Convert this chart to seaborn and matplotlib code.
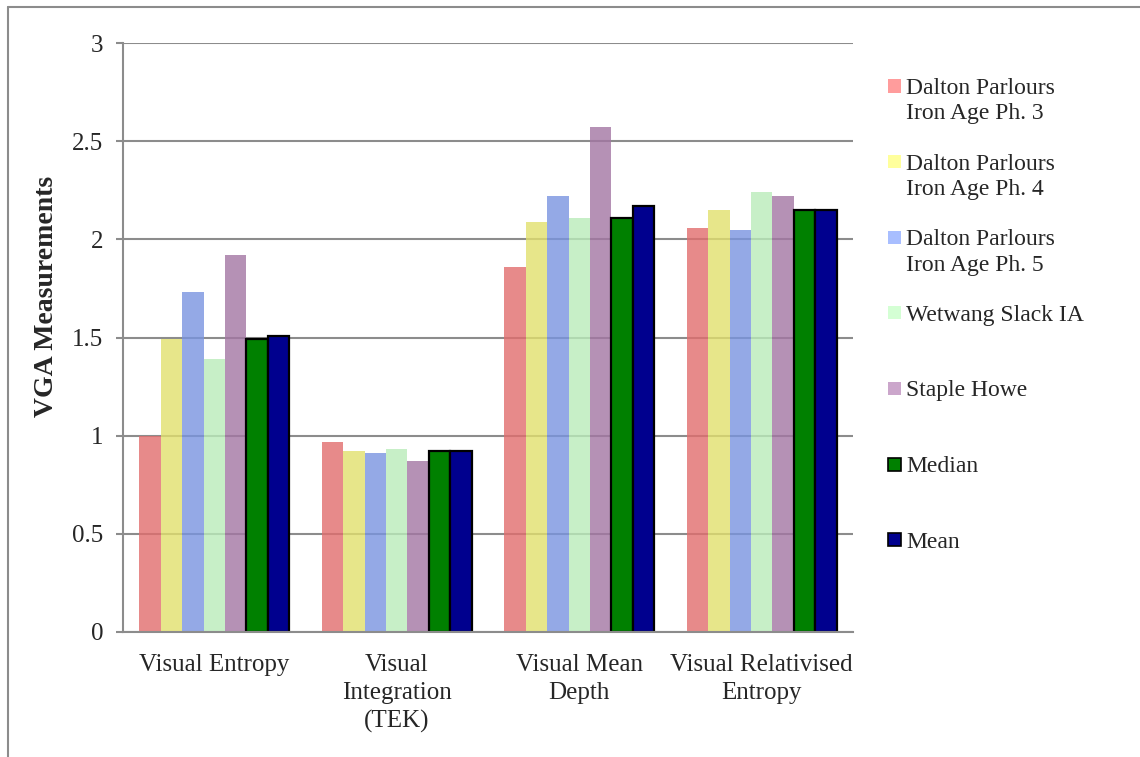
import matplotlib
matplotlib.use('Agg')
import matplotlib.pyplot as plt
from matplotlib.patches import Rectangle
from matplotlib.lines import Line2D
import pandas as pd
import seaborn as sns

measures = ['Visual Entropy', 'Visual Integration (TEK)', 'Visual Mean Depth',
            'Visual Relativised Entropy']
tick_labels = ['Visual Entropy', 'Visual\nIntegration\n(TEK)', 'Visual Mean\nDepth',
               'Visual Relativised\nEntropy']
series = ['Dalton Parlours\nIron Age Ph. 3', 'Dalton Parlours\nIron Age Ph. 4',
          'Dalton Parlours\nIron Age Ph. 5', 'Wetwang Slack IA', 'Staple Howe',
          'Median', 'Mean']

dp3 = [1.00, 0.97, 1.86, 2.06]
dp4 = [1.49, 0.92, 2.09, 2.15]
dp5 = [1.73, 0.91, 2.22, 2.05]
wetwang = [1.39, 0.93, 2.11, 2.24]
staple = [1.92, 0.87, 2.57, 2.22]
median = [1.49, 0.92, 2.11, 2.15]
mean = [1.51, 0.92, 2.17, 2.15]

bar_colors = ['#E26D6D', '#E2E06D', '#7994E0', '#BAECBA', '#A376A3', '#008000', '#00008E']
legend_colors = ['#FF9C9C', '#FFFF9C', '#A8BEFF', '#D4FFD4', '#CBA6CB', '#008000', '#00008E']

values = [dp3, dp4, dp5, wetwang, staple, median, mean]
rows = []
for name, vals in zip(series, values):
    for m, v in zip(measures, vals):
        rows.append({'measure': m, 'series': name, 'value': v})
df = pd.DataFrame(rows)

sns.set_style('white')
plt.rcParams['font.family'] = ['Liberation Serif', 'DejaVu Serif']

W, H = 1140, 757
fig = plt.figure(figsize=(W / 100, H / 100), dpi=100)
ax = fig.add_axes([123 / W, 1 - 632 / H, 730 / W, 589 / H])

sns.barplot(data=df, x='measure', y='value', hue='series', order=measures,
            hue_order=series, palette=bar_colors, width=0.82, gap=0,
            saturation=1, legend=False, ax=ax)

for i, cont in enumerate(ax.containers):
    for bar in cont:
        if i >= 5:
            bar.set_edgecolor('black')
            bar.set_linewidth(1.6)
            bar.set_alpha(1)
        else:
            bar.set_edgecolor('none')
            bar.set_alpha(0.8)

grey = '#8c8c8c'
ax.set_ylim(0, 3)
ax.set_yticks([0, 0.5, 1, 1.5, 2, 2.5, 3])
ax.set_yticklabels(['0', '0.5', '1', '1.5', '2', '2.5', '3'], fontsize=18)
ax.set_xticks(range(len(measures)))
ax.set_xticklabels(tick_labels, fontsize=18, linespacing=1.35)
ax.set_axisbelow(True)
ax.yaxis.grid(True, color=grey, linewidth=1.5)
ax.xaxis.grid(False)
for side in ['top', 'right']:
    ax.spines[side].set_visible(False)
for side in ['left', 'bottom']:
    ax.spines[side].set_color(grey)
    ax.spines[side].set_linewidth(1.5)
ax.tick_params(axis='y', length=5, width=1.5, color=grey, pad=9, left=True)
ax.tick_params(axis='x', length=0, pad=16)
ax.set_xlabel('')
ax.set_ylabel('VGA Measurements', fontsize=20, fontweight='bold')
ax.yaxis.set_label_coords(-0.088, 0.57)

# legend, laid out like the spreadsheet one
for i, (name, col) in enumerate(zip(series, legend_colors)):
    yc = 86 + i * 75.6
    edge = 'black' if i >= 5 else 'none'
    fig.add_artist(Rectangle((888 / W, 1 - (yc + 6.5) / H), 13 / W, 13 / H,
                             transform=fig.transFigure, facecolor=col,
                             edgecolor=edge, linewidth=1.2))
    for k, line in enumerate(name.split('\n')):
        fig.text(906 / W, 1 - (yc + k * 25.5) / H, line, fontsize=17,
                 ha='left', va='center_baseline')

# outer frame
fig.add_artist(Line2D([8 / W, 1], [1 - 7 / H, 1 - 7 / H], color=grey, linewidth=1.5,
                      transform=fig.transFigure))
fig.add_artist(Line2D([8 / W, 8 / W], [0, 1 - 7 / H], color=grey, linewidth=1.5,
                      transform=fig.transFigure))

fig.savefig('out.png', dpi=100)
